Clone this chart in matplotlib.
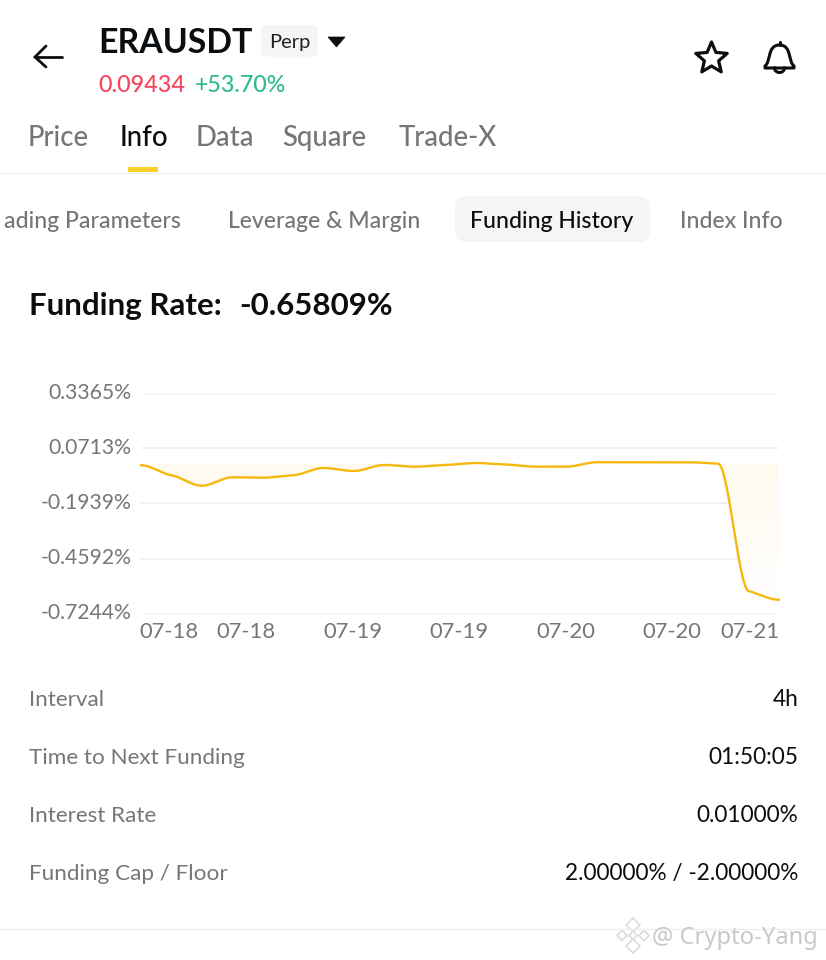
import numpy as np
import matplotlib
matplotlib.use("Agg")
import matplotlib.pyplot as plt
from matplotlib.patches import FancyBboxPatch, Polygon, Rectangle, PathPatch
from matplotlib.path import Path
from matplotlib.colors import LinearSegmentedColormap
from matplotlib.transforms import ScaledTranslation

plt.rcParams['font.family'] = ['Lato', 'DejaVu Sans']

# ---- data ----
funding_rates = [-0.0097, -0.0579, -0.1081, -0.0676, -0.0695, -0.0579, -0.0227, -0.0372,
                 -0.0083, -0.0165, -0.0083, 0.0014, -0.0059, -0.0165, -0.0165, 0.0050,
                 0.0050, 0.0050, 0.0050, -0.0020, -0.6159, -0.65809]
y_ticks = [0.3365, 0.0713, -0.1939, -0.4592, -0.7244]
y_labels = ['0.3365%', '0.0713%', '-0.1939%', '-0.4592%', '-0.7244%']
x_tick_pos = [0.92, 3.47, 6.97, 10.47, 13.97, 17.47, 20.03]
x_labels = ['07-18', '07-18', '07-19', '07-19', '07-20', '07-20', '07-21']
tabs = ['Price', 'Info', 'Data', 'Square', 'Trade-X']
tab_x = [28, 120, 195.5, 282, 399]
subtabs = ['ading Parameters', 'Leverage & Margin', 'Funding History', 'Index Info']
subtab_x = [3.5, 228, 470, 680.5]
info_labels = ['Interval', 'Time to Next Funding', 'Interest Rate', 'Funding Cap / Floor']
info_values = ['4h', '01:50:05', '0.01000%', '2.00000% / -2.00000%']
info_y = [706, 764, 822, 880]


def monotone_curve(y, n=30):
    """Monotone cubic through the points with soft tangents, like the app's stepped line."""
    y = np.asarray(y, float)
    x = np.arange(len(y), dtype=float)
    d = np.diff(y)
    m = np.zeros_like(y)
    for i in range(1, len(y) - 1):
        m[i] = 0 if d[i - 1] * d[i] <= 0 else d[i - 1] * d[i] / (d[i - 1] + d[i])
    xs, ys = [], []
    for i in range(len(y) - 1):
        t = np.linspace(0, 1, n, endpoint=False)
        xs.append(x[i] + t)
        ys.append((2*t**3 - 3*t**2 + 1) * y[i] + (t**3 - 2*t**2 + t) * m[i]
                  + (-2*t**3 + 3*t**2) * y[i + 1] + (t**3 - t**2) * m[i + 1])
    return np.r_[np.concatenate(xs), x[-1]], np.r_[np.concatenate(ys), y[-1]]


W, H = 826, 960
fig = plt.figure(figsize=(W / 100, H / 100), dpi=100, facecolor='white')

# ---- page chrome, in pixel coordinates ----
ui = fig.add_axes([0, 0, 1, 1])
ui.set_xlim(0, W)
ui.set_ylim(H, 0)
ui.axis('off')

BLACK = '#0b0e11'
GREY = '#767676'

# back arrow
ui.plot([35, 62], [57, 57], color=BLACK, lw=2.0, solid_capstyle='round')
ui.plot([46, 35, 46], [46, 57, 67], color=BLACK, lw=2.0, solid_capstyle='round', solid_joinstyle='miter')

ui.text(98.5, 53, 'ERAUSDT', fontsize=24.4, fontweight='bold', color=BLACK, va='baseline', ha='left')
ui.add_patch(FancyBboxPatch((262, 26), 55, 30, boxstyle='round,pad=0,rounding_size=4',
                            fc='#f5f5f5', ec='#f0f0f0', lw=0.6))
ui.text(289.5, 48, 'Perp', fontsize=14.5, color='#222222', va='baseline', ha='center')
ui.add_patch(Polygon([[328, 37], [345, 37], [336.5, 47]], closed=True, fc=BLACK, ec=BLACK, lw=0.5))
ui.text(98.5, 92, '0.09434', fontsize=16.8, color='#f6465d', va='baseline', ha='left', fontweight='medium')
ui.text(195, 92, '+53.70%', fontsize=16.7, color='#2ebd85', va='baseline', ha='left', fontweight='medium')

# star
ang = np.deg2rad(-90 + 36 * np.arange(10))
rad = np.where(np.arange(10) % 2 == 0, 16.5, 7.5)
ui.add_patch(Polygon(np.c_[711.5 + rad * np.cos(ang), 58.5 + rad * np.sin(ang)], closed=True,
                     fc='none', ec=BLACK, lw=2.3, joinstyle='round'))
# bell
bell = Path([(765, 66), (771, 62), (767, 45), (779.5, 45), (792, 45), (788, 62), (794, 66), (794, 68), (765, 68), (765, 66)],
            [Path.MOVETO, Path.CURVE4, Path.CURVE4, Path.CURVE4, Path.CURVE4, Path.CURVE4, Path.CURVE4,
             Path.LINETO, Path.LINETO, Path.CLOSEPOLY])
ui.add_patch(PathPatch(bell, fc='none', ec=BLACK, lw=2.2, joinstyle='round'))
ui.plot([779.5, 779.5], [42, 45], color=BLACK, lw=2.2, solid_capstyle='round')
ui.plot(779.5 + 5 * np.cos(np.linspace(0, np.pi, 20)), 68 + 4.5 * np.sin(np.linspace(0, np.pi, 20)), color=BLACK, lw=2.2)

# tabs
for lab, x in zip(tabs, tab_x):
    ui.text(x, 146, lab, fontsize=19.8, color=BLACK if lab == 'Info' else GREY, va='baseline', ha='left',
            fontweight='medium')
ui.add_patch(Rectangle((128, 167), 29.5, 5, fc='#f8d12f', ec='none'))
ui.plot([0, W], [172.5, 172.5], color='#f0f0f0', lw=1)

# sub tabs
ui.add_patch(FancyBboxPatch((455, 196), 195, 46, boxstyle='round,pad=0,rounding_size=12',
                            fc='#f5f5f5', ec='none'))
for lab, x in zip(subtabs, subtab_x):
    ui.text(x, 228, lab, fontsize=16.6, color=BLACK if lab == 'Funding History' else GREY,
            va='baseline', ha='left', fontweight='medium')

ui.text(29, 315, 'Funding Rate:', fontsize=22.5, fontweight='bold', color=BLACK, va='baseline', ha='left')
ui.text(239, 315, '-0.65809%', fontsize=22.5, fontweight='bold', color=BLACK, va='baseline', ha='left')

# info rows
for lab, val, y in zip(info_labels, info_values, info_y):
    ui.text(29, y, lab, fontsize=16.2, color=GREY, va='baseline', ha='left')
    ui.text(798.5, y, val, fontsize=16.3, color=BLACK, va='baseline', ha='right')
ui.plot([0, W], [928.5, 928.5], color='#eeeeee', lw=1)

# watermark
for cx_, cy_, s in [(633, 925, 7), (633, 946, 7), (622, 935.5, 5), (644, 935.5, 5), (633, 935.5, 4)]:
    ui.add_patch(Polygon([[cx_, cy_ - s], [cx_ + s, cy_], [cx_, cy_ + s], [cx_ - s, cy_]], closed=True,
                         fc='white', ec='#dcdcdc', lw=1.2))
ui.text(652, 938, '@ Crypto-Yang', fontsize=17.1, color='#c9c9c9', va='center', ha='left', fontfamily='Noto Sans')

# ---- chart ----
x0, x1, ytop, ybot = 141, 779, 393.5, 613.5
ax = fig.add_axes([x0 / W, 1 - ybot / H, (x1 - x0) / W, (ybot - ytop) / H])
ax.patch.set_alpha(0)
for s in ax.spines.values():
    s.set_visible(False)
ax.set_yticks(y_ticks, y_labels)
ax.set_xticks(x_tick_pos, x_labels)
ax.tick_params(axis='both', length=0, labelcolor=GREY)
ax.tick_params(axis='y', pad=7, labelsize=15.2)
ax.tick_params(axis='x', pad=6, labelsize=15.8)
up = ScaledTranslation(0, 2.5 / 100, fig.dpi_scale_trans)
for t in ax.get_yticklabels():
    t.set_transform(t.get_transform() + up)
ax.grid(axis='y', color='#f0f0f0', lw=1.2)
ax.set_axisbelow(True)

cx, cy = monotone_curve(funding_rates)
fill = ax.fill_between(cx, 0, np.minimum(cy, 0), color='none')
cmap = LinearSegmentedColormap.from_list('f', ['#fffaf0', '#fffcf6', '#ffffff'])
im = ax.imshow(np.linspace(0, 1, 200)[:, None], extent=[0, len(funding_rates) - 1, min(funding_rates), 0],
               aspect='auto', cmap=cmap, zorder=1, origin='upper')
im.set_clip_path(fill.get_paths()[0], transform=ax.transData)
ax.set_xlim(0, len(funding_rates) - 1)
ax.set_ylim(y_ticks[-1], y_ticks[0])
ax.plot(cx, cy, color='#f5b80d', lw=1.7, zorder=3, clip_on=False)

fig.savefig('out.png', dpi=100, facecolor='white')
